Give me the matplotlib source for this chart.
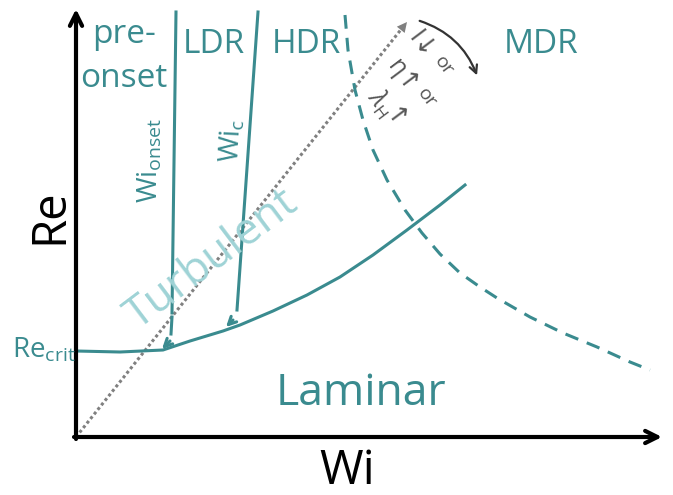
import matplotlib
matplotlib.use("Agg")
import matplotlib.pyplot as plt
from matplotlib.patches import FancyArrowPatch

plt.rcParams['font.family'] = ['Open Sans', 'DejaVu Sans']
plt.rcParams['mathtext.fontset'] = 'custom'
plt.rcParams['mathtext.rm'] = 'Open Sans'
plt.rcParams['mathtext.it'] = 'Open Sans:italic'

teal = '#3a8b8f'
light_teal = '#9fd3d6'
grey = '#808080'

# schematic coordinates (origin = corner of the Wi/Re axes)
lam_wi = [0, 44, 87, 114, 147, 164, 197, 231, 264, 297, 331, 364, 389]   # laminar/turbulent boundary
lam_re = [86, 85, 87, 96, 106, 112, 126, 142, 160, 182, 207, 232, 252]

mdr_wi = [269, 272, 279, 287, 297, 311, 329, 346, 364, 384, 404, 421, 454, 487, 521, 554, 574]   # MDR boundary
mdr_re = [422, 387, 347, 317, 287, 257, 227, 204, 183, 164, 150, 139, 120, 104, 90, 75, 67]

onset_wi = [100, 96]
onset_re = [425, 124]
wic_wi = [182, 161]
wic_re = [425, 127]

diag_wi = [0, 327]
diag_re = [0, 410]

fig = plt.figure(figsize=(6.73, 4.95), dpi=100)
ax = fig.add_axes([0, 0, 1, 1])
ax.set_xlim(-76, 597)
ax.set_ylim(-58, 437)
ax.axis('off')

# axes arrows
ax.annotate('', xy=(0, 428), xytext=(0, -2),
            arrowprops=dict(arrowstyle='->', lw=3, color='black', mutation_scale=22, shrinkA=0, shrinkB=0))
ax.annotate('', xy=(586, 0), xytext=(-2, 0),
            arrowprops=dict(arrowstyle='->', lw=3, color='black', mutation_scale=22, shrinkA=0, shrinkB=0))

# dotted diagonal
ax.plot(diag_wi, diag_re, color=grey, lw=2.2, ls=(0, (1, 0.9)))
ax.annotate('', xy=(diag_wi[1] + 4, diag_re[1] + 5), xytext=(diag_wi[1] - 4, diag_re[1] - 5),
            arrowprops=dict(arrowstyle='-|>', color=grey, lw=0, mutation_scale=18, shrinkA=0, shrinkB=0))

# boundaries
ax.plot(lam_wi, lam_re, color=teal, lw=2.2, solid_joinstyle='round')
ax.plot(mdr_wi, mdr_re, color=teal, lw=2.2, ls=(0, (4.5, 3)))
ax.plot(onset_wi, onset_re, color=teal, lw=2.2)
ax.plot(wic_wi, wic_re, color=teal, lw=2.2)
ax.plot([96, 95], [120, 103], color=teal, lw=2.2)
for tip, tail in [((86, 88), (94, 96)), ((150, 110), (157, 117))]:
    ax.annotate('', xy=tip, xytext=tail,
                arrowprops=dict(arrowstyle='->', color=teal, lw=2.2, mutation_scale=14, shrinkA=0, shrinkB=0))

# region labels
ax.text(48, 394, 'pre-', color=teal, fontsize=24, ha='center', va='baseline')
ax.text(48, 350, 'onset', color=teal, fontsize=24, ha='center', va='baseline')
ax.text(138, 384, 'LDR', color=teal, fontsize=24, ha='center', va='baseline')
ax.text(230, 384, 'HDR', color=teal, fontsize=24, ha='center', va='baseline')
ax.text(465, 384, 'MDR', color=teal, fontsize=24, ha='center', va='baseline')
ax.text(285, 32, 'Laminar', color=teal, fontsize=32, ha='center', va='baseline')
ax.text(136, 177, 'Turbulent', color=light_teal, fontsize=32, rotation=37,
        ha='center', va='center', rotation_mode='anchor')
ax.text(-64, 79, r'Re$_{\mathrm{crit}}$', color=teal, fontsize=20, ha='left', va='baseline')
ax.text(82, 277, r'Wi$_{\mathrm{onset}}$', color=teal, fontsize=20, rotation=90,
        ha='center', va='baseline', rotation_mode='anchor')
ax.text(164, 296, r'Wi$_{\mathrm{c}}$', color=teal, fontsize=20, rotation=87,
        ha='center', va='baseline', rotation_mode='anchor')

# axis titles
ax.text(-26, 221, 'Re', fontsize=34, rotation=90, ha='center', va='center')
ax.text(271, -47, 'Wi', fontsize=34, ha='center', va='baseline')

# trend annotation
txt = '#555555'
rot = dict(rotation=-53, ha='center', va='center', rotation_mode='anchor', color=txt)
ax.text(345, 392, 'I\u2193', fontsize=18, **rot)
ax.text(368, 371, 'or', fontsize=14, **rot)
ax.text(327, 360, '\u03b7\u2191', fontsize=18, **rot)
ax.text(351, 339, 'or', fontsize=14, **rot)
ax.text(304, 334, r'$\lambda_{\mathrm{H}}$', fontsize=18, **rot)
ax.text(318, 318, '\u2191', fontsize=18, **rot)
arc = FancyArrowPatch((341, 417), (402, 359), connectionstyle='arc3,rad=-0.25',
                      arrowstyle='->', color='#333333', lw=1.6, mutation_scale=14)
ax.add_patch(arc)

fig.savefig('out.png', dpi=100)
